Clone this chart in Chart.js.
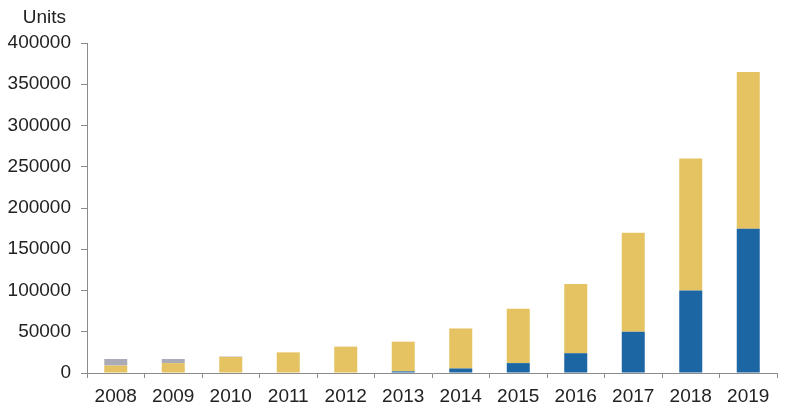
<!DOCTYPE html>
<html>
<head>
<meta charset="utf-8">
<script src="https://cdn.jsdelivr.net/npm/chart.js@4/dist/chart.umd.min.js"></script>
<style>
    html, body { margin: 0; padding: 0; background: #fff; }
    #wrap { width: 795px; height: 411px; }
</style>
</head>
<body>
<div id="wrap"><canvas id="unitsChart" width="795" height="411"></canvas></div>
<script>
// Data
const years = ['2008', '2009', '2010', '2011', '2012', '2013', '2014', '2015', '2016', '2017', '2018', '2019'];
const blueUnits = [0, 0, 0, 0, 0, 2000, 5500, 12000, 24000, 50000, 100000, 175000];
const goldUnits = [9000, 12000, 19500, 25000, 32000, 36000, 48500, 66000, 84000, 120000, 160000, 190000];
const greyUnits = [8000, 5000, 500, 0, 0, 0, 0, 0, 0, 0, 0, 0];
const yTicks = [0, 50000, 100000, 150000, 200000, 250000, 300000, 350000, 400000];

const textColor = '#222';
const axisColor = '#8c8c8c';
const fontFamily = '"Liberation Sans", Arial, sans-serif';

// Draws the "Units" label above the y axis labels
const unitsLabel = {
    id: 'unitsLabel',
    afterDraw(chart) {
        const ctx = chart.ctx;
        const yScale = chart.scales.y;
        ctx.save();
        ctx.font = '19px ' + fontFamily;
        ctx.fillStyle = textColor;
        ctx.textAlign = 'right';
        ctx.textBaseline = 'middle';
        ctx.fillText('Units', yScale.right - 21, 18);
        ctx.restore();
    }
};

const ctx = document.getElementById('unitsChart').getContext('2d');
new Chart(ctx, {
    type: 'bar',
    data: {
        labels: years,
        datasets: [
            { label: 'Blue', data: blueUnits, backgroundColor: '#1c66a4' },
            { label: 'Gold', data: goldUnits, backgroundColor: '#e6c362' },
            { label: 'Grey', data: greyUnits, backgroundColor: '#aaabb6' }
        ]
    },
    options: {
        responsive: false,
        animation: false,
        layout: { padding: { top: 43, right: 18, left: 0, bottom: 0 } },
        datasets: {
            bar: { categoryPercentage: 1, barPercentage: 0.4 }
        },
        plugins: {
            legend: { display: false },
            tooltip: { enabled: false }
        },
        scales: {
            x: {
                stacked: true,
                afterFit(scale) { scale.height = 38; },
                grid: {
                    offset: true,
                    drawOnChartArea: false,
                    drawTicks: true,
                    tickLength: 5,
                    color: axisColor
                },
                border: { display: true, color: axisColor, width: 1 },
                ticks: {
                    color: textColor,
                    padding: 7,
                    font: { family: fontFamily, size: 19 }
                }
            },
            y: {
                stacked: true,
                min: 0,
                max: 400000,
                afterFit(scale) { scale.width = 87; },
                afterBuildTicks(scale) { scale.ticks = yTicks.map(v => ({ value: v })); },
                grid: {
                    drawOnChartArea: false,
                    drawTicks: true,
                    tickLength: 6,
                    color: axisColor
                },
                border: { display: true, color: axisColor, width: 1 },
                ticks: {
                    color: textColor,
                    padding: 10,
                    callback: v => String(v),
                    font: { family: fontFamily, size: 19 }
                }
            }
        }
    },
    plugins: [unitsLabel]
});
</script>
</body>
</html>
